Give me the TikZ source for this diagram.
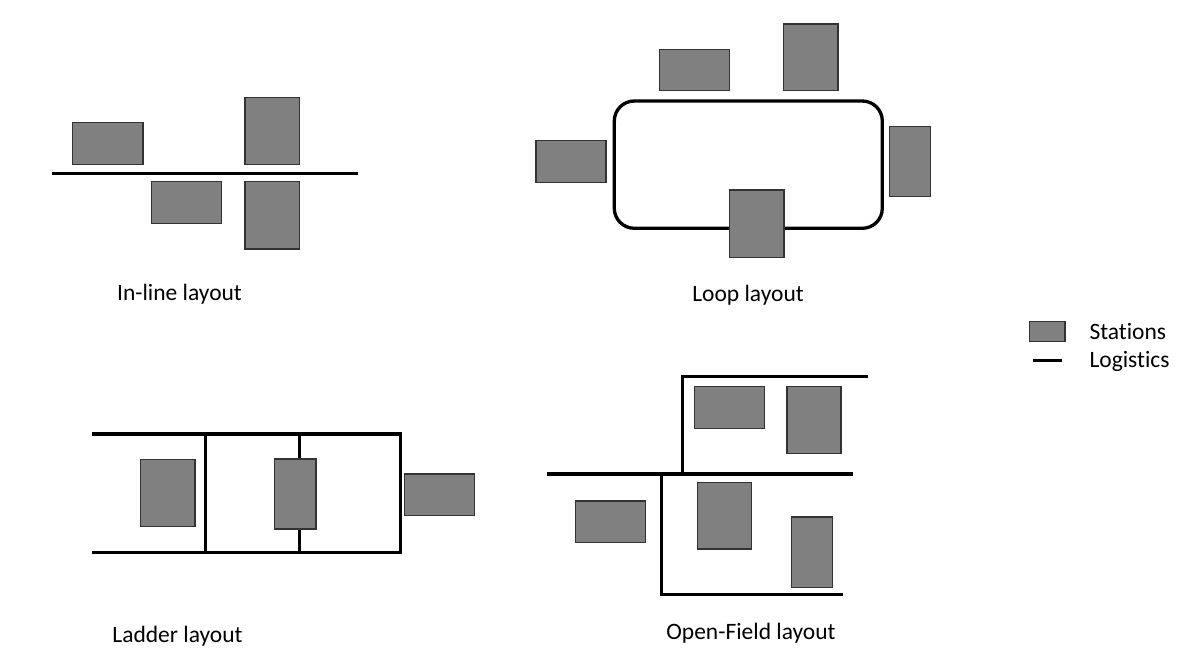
\documentclass[tikz,border=0pt]{standalone}
\usepackage{fontspec}
\setmainfont{Carlito}[Ligatures=NoCommon]
\begin{document}
\begin{tikzpicture}[x=1pt,y=-1pt,
  station/.style={draw=black!80, line width=1.2pt, fill=black!50, inner sep=0pt, outer sep=0pt},
  logistics/.style={line width=3.3pt, line join=miter},
  caption/.style={font=\fontsize{23.5}{28}\selectfont, anchor=base, inner sep=0pt},
  legendtext/.style={font=\fontsize{23.5}{28}\selectfont, anchor=base west, inner sep=0pt}]
\useasboundingbox (0,0) rectangle (1189,668);
\fill[white] (0,0) rectangle (1189,668);

% In-line layout
\draw[logistics] (51.7,173.3) -- (358.3,173.3);
\node[station, minimum width=70.3, minimum height=41.6] (il1) at (107.9,143.5) {};
\node[station, minimum width=54.7, minimum height=67] (il2) at (272.3,130.8) {};
\node[station, minimum width=70.4, minimum height=42] (il3) at (186.5,202.7) {};
\node[station, minimum width=54.7, minimum height=67.3] (il4) at (272.3,215.3) {};
\node[caption] (capinline) at (179.5,301) {In-line layout};

% Loop layout
\draw[logistics, rounded corners=20] (614.3,101) rectangle (882.3,228.3);
\node[station, minimum width=70, minimum height=41.4] (lp1) at (694.3,70) {};
\node[station, minimum width=54.7, minimum height=66.7] (lp2) at (810.7,57.3) {};
\node[station, minimum width=70, minimum height=42] (lp3) at (571,161.3) {};
\node[station, minimum width=41.4, minimum height=70] (lp4) at (910,161.7) {};
\node[station, minimum width=54.7, minimum height=67.3] (lp5) at (756.7,223.7) {};
\node[caption] (caploop) at (748,302) {Loop layout};

% Ladder layout
\draw[logistics] (91.7,434) -- (400.7,434) -- (400.7,552.7) -- (91.7,552.7);
\draw[logistics] (205.7,434) -- (205.7,552.7);
\draw[logistics] (299.3,434) -- (299.3,552.7);
\node[station, minimum width=54.3, minimum height=67.4] (ld1) at (167.9,493) {};
\node[station, minimum width=41.7, minimum height=70] (ld2) at (295.2,494) {};
\node[station, minimum width=70.4, minimum height=41.7] (ld3) at (439.5,494.9) {};
\node[caption] (capladder) at (177.5,642) {Ladder layout};

% Open-Field layout
\draw[logistics] (867.7,376.7) -- (682.7,376.7) -- (682.7,474);
\draw[logistics] (546.7,474) -- (853.3,474);
\draw[logistics] (661.7,474) -- (661.7,594.3) -- (843.3,594.3);
\node[station, minimum width=69.6, minimum height=41.6] (of1) at (729.5,407.5) {};
\node[station, minimum width=54, minimum height=66.6] (of2) at (814,420) {};
\node[station, minimum width=70, minimum height=41.7] (of3) at (610.7,521.8) {};
\node[station, minimum width=54.4, minimum height=66.7] (of4) at (724.5,515.7) {};
\node[station, minimum width=41.4, minimum height=70.3] (of5) at (812,552.2) {};
\node[caption] (capopen) at (751,639) {Open-Field layout};

% Legend
\node[station, minimum width=35.7, minimum height=20] (legstation) at (1047.2,331.7) {};
\coordinate (leglineA) at (1032.7,360.7);
\coordinate (leglineB) at (1062.3,360.7);
\draw[logistics] (leglineA) -- (leglineB);
\node[legendtext] (legstationtext) at (1089.3,339.5) {Stations};
\node[legendtext] (leglogtext) at (1089.3,367.5) {Logistics};
\end{tikzpicture}
\end{document}
